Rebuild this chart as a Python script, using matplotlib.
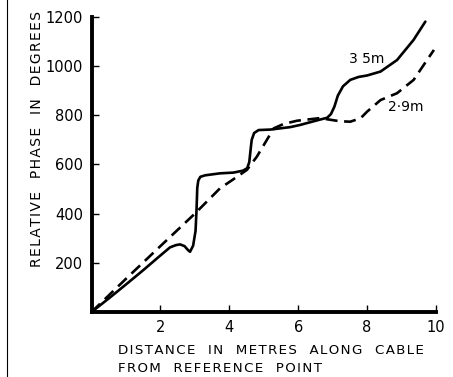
import matplotlib.pyplot as plt
from matplotlib.lines import Line2D

# 3.5 m cable (solid)
solid_x = [0, 0.5, 1.0, 1.5, 2.0, 2.28, 2.45, 2.57, 2.7, 2.8, 2.86, 2.95, 3.02, 3.05, 3.07,
           3.1, 3.16, 3.3, 3.73, 4.12, 4.4, 4.52, 4.58, 4.61, 4.65, 4.72, 4.85, 5.19, 5.77,
           6.06, 6.59, 6.84, 6.95, 7.05, 7.15, 7.3, 7.51, 7.75, 8.0, 8.39, 8.87, 9.35, 9.69]
solid_y = [0, 55, 112, 170, 230, 263, 272, 275, 268, 252, 245, 270, 330, 420, 505,
           535, 550, 556, 564, 567, 575, 585, 610, 650, 700, 728, 740, 742, 752,
           761, 781, 790, 805, 835, 880, 918, 944, 956, 962, 978, 1025, 1107, 1181]

# 2.9 m cable (dashed)
dashed_x = [0, 1.0, 2.0, 3.0, 3.73, 4.12, 4.51, 4.80, 5.09, 5.29, 5.58, 5.97, 6.59, 6.84,
            7.2, 7.51, 7.81, 8.0, 8.39, 8.87, 9.35, 9.74, 9.94]
dashed_y = [0, 135, 268, 400, 503, 540, 578, 632, 700, 747, 765, 778, 788, 784,
            776, 774, 788, 815, 862, 890, 944, 1025, 1066]

x_ticks = [2, 4, 6, 8, 10]
y_ticks = [200, 400, 600, 800, 1000, 1200]


def spaced(s):
    # widen letter spacing like the original lettering
    return '\u200a'.join(s)


fig = plt.figure(figsize=(4.53, 3.77), dpi=100)
ax = fig.add_axes([0.202, 0.1724, 0.7605, 0.7826])

ax.plot(solid_x, solid_y, color='black', lw=1.9, solid_capstyle='round')
ax.plot(dashed_x, dashed_y, color='black', lw=1.9, dashes=(4.5, 2.5))

ax.text(8.0, 1029, '3 5m', fontsize=10, ha='center', va='center')
ax.text(9.11, 835, '2·9m', fontsize=10, ha='center', va='center')

ax.set_xlim(0, 10)
ax.set_ylim(0, 1200)
ax.set_xticks(x_ticks)
ax.set_yticks(y_ticks)
ax.tick_params(direction='in', length=5, width=1, labelsize=10.5, pad=6)

for side in ['top', 'right']:
    ax.spines[side].set_visible(False)
for side in ['left', 'bottom']:
    ax.spines[side].set_linewidth(2.8)

# axis labels
fig.text(118 / 453, 1 - 350 / 377, spaced('DISTANCE  IN  METRES  ALONG  CABLE'), fontsize=9.6,
         ha='left', va='center')
fig.text(118 / 453, 1 - 369 / 377, spaced('FROM  REFERENCE  POINT'), fontsize=9.6,
         ha='left', va='center')
fig.text(37 / 453, 1 - 139 / 377, spaced('RELATIVE  PHASE  IN  DEGREES'), fontsize=10,
         rotation=90, ha='center', va='center')

# page edge from the scan
fig.add_artist(Line2D([7 / 453, 7 / 453], [0, 1], color='black', lw=0.8))

plt.savefig('out.png', dpi=100)
